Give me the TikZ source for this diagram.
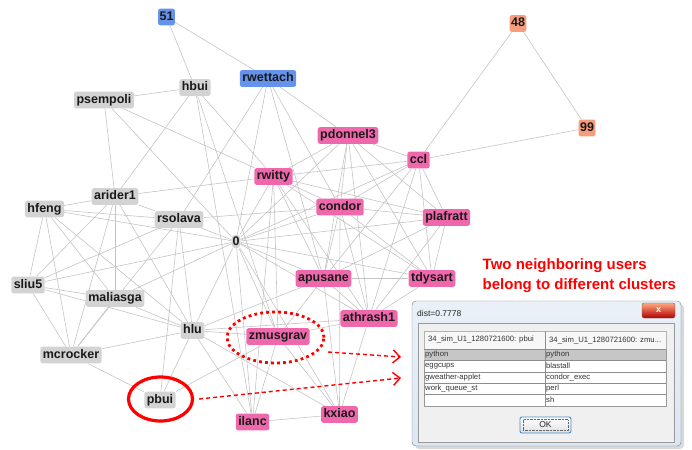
\documentclass[tikz,border=0pt]{standalone}
\usepackage{fontspec}
\setmainfont{Liberation Sans}
\usetikzlibrary{arrows.meta,positioning,shapes.geometric}

\definecolor{usergray}{HTML}{D2D3D2}
\definecolor{userpink}{HTML}{EF68AC}
\definecolor{userblue}{HTML}{6592EA}
\definecolor{usersalmon}{HTML}{F79C7C}
\definecolor{edgegray}{HTML}{C4C4C4}
\definecolor{frameblue}{HTML}{DCE7F2}
\definecolor{frameline}{HTML}{6F7F8F}
\definecolor{panelgray}{HTML}{F0F0F0}
\definecolor{rowgray}{HTML}{C6C6C6}
\definecolor{okblue}{HTML}{3D8FD1}

\pgfdeclarelayer{edges}
\pgfsetlayers{edges,main}

\begin{document}
\begin{tikzpicture}[x=1pt,y=-1pt,
  user/.style={rounded corners=2.5pt, inner xsep=2.5pt, inner ysep=2.6pt,
               text height=9pt, text depth=2.6pt, text=black!90,
               font=\fontsize{12.5}{14}\selectfont\bfseries},
  grayuser/.style={user, fill=usergray},
  pinkuser/.style={user, fill=userpink},
  blueuser/.style={user, fill=userblue},
  numuser/.style={user, fill=usersalmon, inner xsep=1.5pt},
  edge/.style={draw=edgegray, line width=0.6pt},
  solidring/.style={draw=red, line width=3.2pt, ellipse, inner sep=0pt},
  dotring/.style={draw=red, line width=2.8pt, ellipse, inner sep=0pt,
                  dash pattern=on 2.8pt off 3.2pt},
  linkarrow/.style={draw=red, line width=1.4pt, dash pattern=on 4pt off 3pt,
                    -{Straight Barb[length=7pt,width=13pt,line width=1.4pt]}},
  cell/.style={anchor=west, inner sep=0pt, text=black!80,
               font=\fontsize{7.7}{9}\selectfont}
]
\useasboundingbox (0,0) rectangle (692,449);

% cluster graph
\node[blueuser, inner xsep=1.5pt] (n51) at (166.5,17) {51};
\node[blueuser] (rwettach) at (268,78.5) {rwettach};
\node[grayuser] (hbui) at (195,87.5) {hbui};
\node[grayuser] (psempoli) at (104,100) {psempoli};
\node[pinkuser] (pdonnel3) at (348,135.5) {pdonnel3};
\node[pinkuser] (ccl) at (418.5,160) {ccl};
\node[pinkuser] (rwitty) at (273.5,176.5) {rwitty};
\node[grayuser] (arider1) at (115,196.5) {arider1};
\node[pinkuser] (condor) at (340,207) {condor};
\node[grayuser] (hfeng) at (44.5,209) {hfeng};
\node[grayuser] (rsolava) at (179,219.5) {rsolava};
\node[pinkuser] (plafratt) at (446.5,217.5) {plafratt};
\node[grayuser, inner xsep=1pt, inner ysep=2pt, text height=9pt, text depth=0.5pt,
      rounded corners=4pt] (n0) at (236,241.5) {0};
\node[pinkuser] (apusane) at (323.5,278.5) {apusane};
\node[pinkuser] (tdysart) at (432,278.5) {tdysart};
\node[grayuser] (sliu5) at (28,285) {sliu5};
\node[grayuser] (maliasga) at (115,298.5) {maliasga};
\node[pinkuser] (athrash1) at (369,318.5) {athrash1};
\node[grayuser] (hlu) at (192.5,330.5) {hlu};
\node[pinkuser] (zmusgrav) at (278,336.5) {zmusgrav};
\node[grayuser] (mcrocker) at (71,355) {mcrocker};
\node[grayuser] (pbui) at (160,400) {pbui};
\node[pinkuser] (ilanc) at (252.5,422) {ilanc};
\node[pinkuser] (kxiao) at (339.5,414.5) {kxiao};
\node[numuser] (n48) at (518,23.5) {48};
\node[numuser] (n99) at (587,128) {99};

\begin{pgfonlayer}{edges}
\foreach \a/\b in {n51/hbui, n51/rwettach, hbui/psempoli, hbui/arider1, hbui/rwitty,
    hbui/zmusgrav, hbui/ilanc, rwettach/rsolava, rwettach/n0, rwettach/condor,
    rwettach/pdonnel3, rwettach/apusane, psempoli/arider1, psempoli/rwitty, psempoli/n0,
    arider1/hfeng, arider1/rwitty, arider1/rsolava, arider1/maliasga, arider1/sliu5,
    arider1/hlu, arider1/mcrocker, hfeng/rsolava, hfeng/n0, hfeng/sliu5, hfeng/maliasga,
    hfeng/mcrocker, hfeng/hlu, rsolava/n0, rsolava/sliu5, rsolava/condor, rsolava/hlu,
    rsolava/pbui, rsolava/mcrocker, n0/rwitty, n0/condor, n0/pdonnel3, n0/ccl,
    n0/plafratt, n0/apusane, n0/athrash1, n0/zmusgrav, n0/ilanc, n0/kxiao, n0/hlu,
    n0/sliu5, n0/maliasga, n0/tdysart, sliu5/maliasga, sliu5/mcrocker, sliu5/hlu,
    maliasga/hlu, maliasga/mcrocker, mcrocker/hlu, mcrocker/pbui, hlu/pbui,
    hlu/zmusgrav, hlu/athrash1, hlu/ilanc, hlu/kxiao, hlu/apusane, pbui/zmusgrav,
    zmusgrav/ilanc, zmusgrav/kxiao, zmusgrav/apusane, zmusgrav/rwitty,
    zmusgrav/athrash1, ilanc/kxiao, ilanc/rwitty, kxiao/athrash1, kxiao/apusane,
    kxiao/condor, rwitty/pdonnel3, rwitty/ccl, rwitty/condor, rwitty/plafratt,
    rwitty/tdysart, rwitty/apusane, rwitty/athrash1, pdonnel3/ccl, pdonnel3/condor,
    pdonnel3/plafratt, pdonnel3/tdysart, pdonnel3/apusane, pdonnel3/athrash1,
    ccl/condor, ccl/plafratt, ccl/tdysart, ccl/apusane, ccl/athrash1, ccl/n48, ccl/n99,
    condor/plafratt, condor/tdysart, condor/apusane, condor/athrash1,
    plafratt/tdysart, plafratt/apusane, plafratt/athrash1, apusane/tdysart,
    apusane/athrash1, tdysart/athrash1, n48/n99}
  \draw[edge] (\a) -- (\b);
\end{pgfonlayer}

% highlighted pair
\node[dotring, minimum width=97pt, minimum height=51pt] (zring) at (275.5,337.5) {};
\node[solidring, minimum width=64pt, minimum height=44pt] (pring) at (160.5,399) {};

\node[anchor=north west, inner sep=0pt, align=left, text=red,
      font=\fontsize{15}{20.5}\selectfont\bfseries] (note) at (482.5,258)
      {Two neighboring users\\belong to different clusters};

% dialog window
\fill[black!15, rounded corners=4pt] (415,304) rectangle (684,449);
\draw[frameline, top color=frameblue!60, bottom color=frameblue, rounded corners=4pt]
  (412,301) rectangle (681,446);
\node[anchor=west, inner sep=0pt, text=black!85, font=\fontsize{8.5}{10}\selectfont]
  (title) at (417,313) {dist=0.7778};
\draw[black!60, top color=red!35!orange!50, bottom color=red!70!black, rounded corners=2pt]
  (642,303) rectangle (675,318);
\node[text=white, font=\fontsize{9}{10}\selectfont\bfseries, inner sep=0pt] (closex)
  at (658.5,310) {x};
\draw[black!40, fill=panelgray] (418,323) rectangle (674,442);
\draw[black!40, fill=white] (424,331) rectangle (666,406);
\draw[black!30, fill=black!3] (424,331) rectangle (666,349);
\fill[rowgray] (424,349) rectangle (666,360);
\foreach \y in {349,360,372,383,394}
  \draw[black!45] (424,\y) -- (666,\y);
\draw[black!45] (545,331) -- (545,406);
\node[cell] (head1) at (428,340) {34\_sim\_U1\_1280721600: pbui};
\node[cell] (head2) at (549,340) {34\_sim\_U1\_1280721600: zmu...};
\foreach \y/\l/\r in {354.5/python/python, 366/eggcups/blastall,
    377.5/gweather-applet/condor\_exec, 388.5/work\_queue\_st/perl, 400/{}/sh} {
  \node[cell] at (425,\y) {\l};
  \node[cell] at (546,\y) {\r};
}
\draw[okblue, line width=0.9pt, top color=white, bottom color=black!12, rounded corners=2pt]
  (520,417) rectangle (571,433);
\draw[black!60, densely dotted] (523,419.5) rectangle (568,430.5);
\node[text=black!85, font=\fontsize{8.5}{10}\selectfont, inner sep=0pt] (ok) at (545.5,425) {OK};

% pointers to the dialog rows
\coordinate (zfrom) at (328,352);
\coordinate (zto) at (401,357);
\coordinate (pto) at (401,378);
\draw[linkarrow] (zfrom) -- (zto);
\draw[linkarrow] ([xshift=5pt]pring.east) -- (pto);
\end{tikzpicture}
\end{document}
